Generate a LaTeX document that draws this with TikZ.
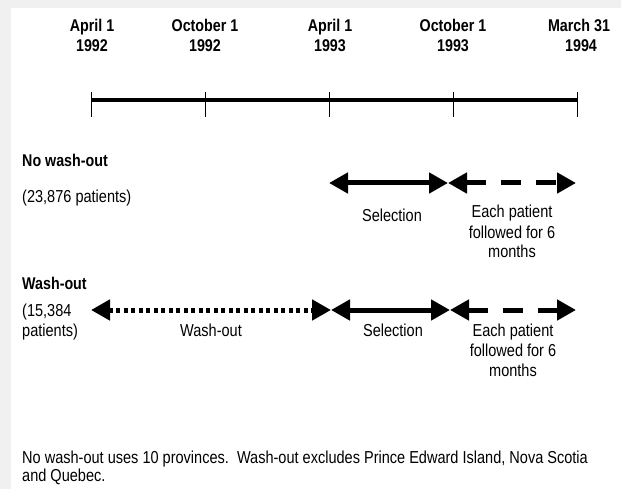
\documentclass[tikz,border=0pt]{standalone}
\usepackage{fontspec}
\setmainfont{Liberation Sans}[FakeStretch=0.84]
\usetikzlibrary{arrows.meta}
\definecolor{bggray}{HTML}{F0F0F0}
\tikzset{
  txt/.style={inner sep=0pt, font=\fontsize{17.3}{20}\selectfont},
  btxt/.style={inner sep=0pt, font=\fontsize{17}{20}\selectfont\bfseries},
  axis/.style={line width=4.5pt},
  tickmark/.style={line width=1pt},
  span/.style={line width=5pt, {Triangle[length=19pt,width=20pt]}-{Triangle[length=19pt,width=20pt]}},
  dashspan/.style={span, dash pattern=on 20pt off 15pt},
  dotspan/.style={span, dash pattern=on 4pt off 3.5pt},
}
\begin{document}
\begin{tikzpicture}[x=1pt,y=-1pt]
\useasboundingbox (0,0) rectangle (621,489);
\fill[bggray] (0,0) rectangle (621,489);
\fill[white] (11,8) rectangle (621,489);

% timeline labels
\node[btxt, anchor=base] (l1a) at (92,32) {April 1};
\node[btxt, anchor=base] (l1b) at (92,52) {1992};
\node[btxt, anchor=base] (l2a) at (205,32) {October 1};
\node[btxt, anchor=base] (l2b) at (205,52) {1992};
\node[btxt, anchor=base] (l3a) at (330,32) {April 1};
\node[btxt, anchor=base] (l3b) at (330,52) {1993};
\node[btxt, anchor=base] (l4a) at (453,32) {October 1};
\node[btxt, anchor=base] (l4b) at (453,52) {1993};
\node[btxt, anchor=base] (l5a) at (579,32) {March 31};
\node[btxt, anchor=base] (l5b) at (581,52) {1994};

% timeline
\coordinate (t1) at (91,100);
\coordinate (t5) at (577,100);
\draw[axis] (t1) -- (t5);
\foreach \n/\x in {1/91,2/205,3/329,4/453,5/577}{
  \coordinate (u\n) at (\x,92);
  \coordinate (d\n) at (\x,117);
  \draw[tickmark] (u\n) -- (d\n);
}

% no wash-out row
\node[btxt, anchor=base west] (nw) at (22,167) {No wash-out};
\node[txt, anchor=base west] (nwp) at (22,203) {(23,876 patients)};
\coordinate (a1) at (329,183);
\coordinate (a2) at (448,183);
\coordinate (a3) at (576,183);
\draw[span] (a1) -- (a2);
\draw[dashspan] (a2) -- (a3);
\node[txt, anchor=base] (sel1) at (392,222) {Selection};
\node[txt, anchor=base] (ep1a) at (512,218) {Each patient};
\node[txt, anchor=base] (ep1b) at (512,238) {followed for 6};
\node[txt, anchor=base] (ep1c) at (512,258) {months};

% wash-out row
\node[btxt, anchor=base west] (wo) at (22,289) {Wash-out};
\node[txt, anchor=base west] (wop1) at (22,316) {(15,384};
\node[txt, anchor=base west] (wop2) at (22,336) {patients)};
\coordinate (b0) at (91,310);
\coordinate (b1) at (331,310);
\coordinate (b2) at (450,310);
\coordinate (b3) at (576,310);
\draw[dotspan] (b0) -- (b1);
\draw[span] (b1) -- (b2);
\draw[dashspan] (b2) -- (b3);
\node[txt, anchor=base] (wol) at (211,336) {Wash-out};
\node[txt, anchor=base] (sel2) at (393,336) {Selection};
\node[txt, anchor=base] (ep2a) at (513,336) {Each patient};
\node[txt, anchor=base] (ep2b) at (513,356) {followed for 6};
\node[txt, anchor=base] (ep2c) at (513,376) {months};

% footnote
\node[txt, anchor=base west] (fn1) at (22,463) {No wash-out uses 10 provinces.\ \ Wash-out excludes Prince Edward Island, Nova Scotia};
\node[txt, anchor=base west] (fn2) at (22,481) {and Quebec.};
\end{tikzpicture}
\end{document}
